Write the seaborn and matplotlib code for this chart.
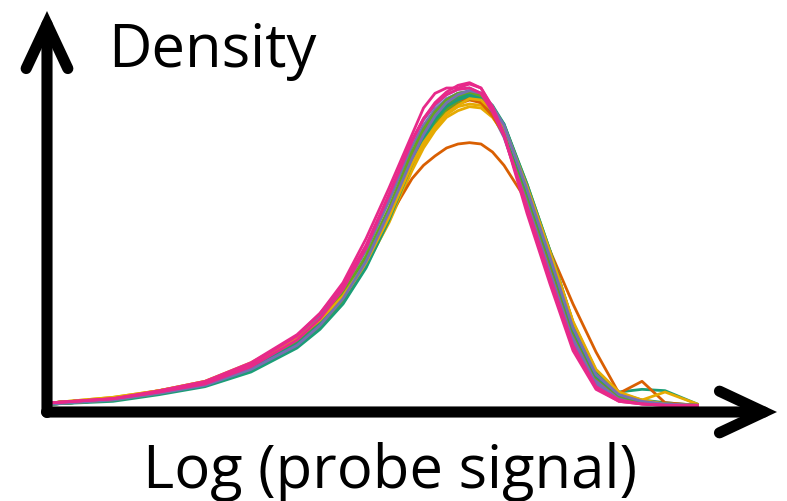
import pandas as pd
import matplotlib.pyplot as plt
import seaborn as sns

# shared x grid (log probe signal)
log_signal = [1.7, 3.0, 4.0, 5.0, 6.0, 7.0, 7.5, 8.0, 8.5, 9.0, 9.5, 9.75, 10.0, 10.25,
              10.5, 10.75, 11.0, 11.25, 11.5, 12.0, 12.5, 13.0, 13.5, 14.0, 14.5, 15.0, 15.7]

# density curves, one array per sample
s01 = [0.003, 0.006, 0.011, 0.017, 0.029, 0.046, 0.060, 0.079, 0.106, 0.141, 0.184, 0.203, 0.217, 0.228,
       0.234, 0.237, 0.235, 0.227, 0.213, 0.166, 0.114, 0.061, 0.026, 0.011, 0.006, 0.004, 0.002]
s02 = [0.004, 0.007, 0.013, 0.019, 0.032, 0.051, 0.066, 0.084, 0.109, 0.142, 0.182, 0.199, 0.212, 0.222,
       0.228, 0.231, 0.229, 0.220, 0.206, 0.163, 0.113, 0.061, 0.026, 0.010, 0.005, 0.003, 0.002]
s03 = [0.004, 0.007, 0.012, 0.019, 0.032, 0.052, 0.068, 0.089, 0.118, 0.155, 0.196, 0.212, 0.224, 0.232,
       0.236, 0.237, 0.232, 0.220, 0.203, 0.153, 0.101, 0.051, 0.019, 0.008, 0.004, 0.003, 0.002]
s04 = [0.003, 0.006, 0.011, 0.017, 0.030, 0.048, 0.063, 0.082, 0.109, 0.144, 0.186, 0.204, 0.218, 0.228,
       0.234, 0.236, 0.234, 0.226, 0.212, 0.166, 0.115, 0.062, 0.026, 0.010, 0.005, 0.003, 0.002]
s05 = [0.004, 0.008, 0.013, 0.020, 0.034, 0.053, 0.067, 0.084, 0.107, 0.139, 0.178, 0.195, 0.208, 0.218,
       0.223, 0.226, 0.225, 0.218, 0.206, 0.164, 0.116, 0.063, 0.027, 0.011, 0.005, 0.003, 0.002]
s06 = [0.003, 0.006, 0.011, 0.017, 0.029, 0.047, 0.062, 0.081, 0.108, 0.143, 0.184, 0.201, 0.215, 0.224,
       0.230, 0.232, 0.230, 0.221, 0.208, 0.162, 0.113, 0.062, 0.027, 0.012, 0.014, 0.013, 0.003]
s07 = [0.004, 0.007, 0.012, 0.018, 0.031, 0.050, 0.065, 0.084, 0.110, 0.143, 0.172, 0.182, 0.189, 0.195,
       0.198, 0.199, 0.198, 0.192, 0.182, 0.155, 0.118, 0.078, 0.042, 0.011, 0.020, 0.004, 0.002]
s08 = [0.004, 0.007, 0.012, 0.018, 0.030, 0.049, 0.064, 0.083, 0.110, 0.146, 0.189, 0.207, 0.221, 0.231,
       0.236, 0.238, 0.236, 0.226, 0.211, 0.160, 0.107, 0.054, 0.021, 0.008, 0.004, 0.003, 0.002]
s09 = [0.003, 0.006, 0.011, 0.017, 0.029, 0.047, 0.061, 0.080, 0.107, 0.142, 0.183, 0.200, 0.214, 0.224,
       0.230, 0.232, 0.231, 0.224, 0.212, 0.168, 0.118, 0.064, 0.027, 0.011, 0.005, 0.003, 0.002]
s10 = [0.004, 0.007, 0.013, 0.019, 0.033, 0.052, 0.066, 0.083, 0.107, 0.140, 0.180, 0.197, 0.210, 0.220,
       0.226, 0.228, 0.227, 0.219, 0.208, 0.165, 0.116, 0.064, 0.028, 0.009, 0.006, 0.012, 0.003]
s11 = [0.003, 0.005, 0.010, 0.016, 0.027, 0.045, 0.059, 0.078, 0.105, 0.141, 0.183, 0.201, 0.216, 0.226,
       0.232, 0.235, 0.233, 0.225, 0.213, 0.168, 0.118, 0.064, 0.028, 0.011, 0.005, 0.003, 0.002]
s12 = [0.004, 0.007, 0.012, 0.018, 0.031, 0.050, 0.065, 0.085, 0.112, 0.148, 0.190, 0.206, 0.218, 0.226,
       0.231, 0.232, 0.229, 0.219, 0.205, 0.158, 0.108, 0.057, 0.023, 0.009, 0.004, 0.003, 0.002]
s13 = [0.004, 0.007, 0.012, 0.019, 0.033, 0.054, 0.070, 0.091, 0.121, 0.159, 0.200, 0.216, 0.227, 0.235,
       0.239, 0.240, 0.236, 0.223, 0.207, 0.155, 0.102, 0.050, 0.018, 0.007, 0.004, 0.003, 0.002]
s14 = [0.003, 0.006, 0.011, 0.018, 0.031, 0.050, 0.066, 0.086, 0.114, 0.150, 0.192, 0.209, 0.222, 0.231,
       0.236, 0.237, 0.234, 0.224, 0.209, 0.160, 0.109, 0.057, 0.023, 0.009, 0.004, 0.003, 0.002]
s15 = [0.004, 0.007, 0.012, 0.018, 0.030, 0.048, 0.063, 0.083, 0.110, 0.145, 0.186, 0.203, 0.217, 0.226,
       0.231, 0.234, 0.232, 0.223, 0.210, 0.163, 0.112, 0.059, 0.024, 0.010, 0.005, 0.003, 0.002]
s16 = [0.004, 0.008, 0.013, 0.020, 0.033, 0.052, 0.066, 0.084, 0.109, 0.143, 0.183, 0.199, 0.211, 0.221,
       0.227, 0.232, 0.231, 0.223, 0.211, 0.166, 0.117, 0.065, 0.029, 0.012, 0.006, 0.003, 0.002]
s17 = [0.003, 0.006, 0.011, 0.017, 0.029, 0.047, 0.062, 0.082, 0.110, 0.147, 0.187, 0.205, 0.219, 0.229,
       0.235, 0.238, 0.236, 0.226, 0.212, 0.164, 0.113, 0.060, 0.025, 0.010, 0.005, 0.003, 0.002]
s18 = [0.004, 0.007, 0.013, 0.020, 0.034, 0.055, 0.071, 0.092, 0.122, 0.160, 0.201, 0.217, 0.228, 0.235,
       0.239, 0.240, 0.236, 0.222, 0.204, 0.151, 0.098, 0.047, 0.016, 0.006, 0.003, 0.002, 0.002]
s19 = [0.004, 0.007, 0.012, 0.018, 0.031, 0.051, 0.067, 0.089, 0.120, 0.160, 0.200, 0.217, 0.229, 0.237,
       0.242, 0.244, 0.240, 0.225, 0.205, 0.150, 0.096, 0.045, 0.015, 0.005, 0.003, 0.002, 0.002]
s20 = [0.004, 0.007, 0.012, 0.019, 0.033, 0.054, 0.071, 0.094, 0.127, 0.165, 0.205, 0.225, 0.236, 0.240,
       0.240, 0.243, 0.240, 0.226, 0.205, 0.146, 0.093, 0.043, 0.014, 0.005, 0.003, 0.002, 0.002]

curves = [s01, s02, s03, s04, s05, s06, s07, s08, s09, s10,
          s11, s12, s13, s14, s15, s16, s17, s18, s19, s20]
curve_colors = ['teal', 'orange', 'purple', 'green', 'yellow', 'teal', 'orange', 'purple',
                'green', 'yellow', 'teal', 'orange', 'purple', 'green', 'teal', 'yellow',
                'purple', 'pink', 'pink', 'pink']

dark2 = {'teal': '#1b9e77', 'orange': '#d95f02', 'purple': '#7570b3',
         'pink': '#e7298a', 'green': '#66a61e', 'yellow': '#e6ab02'}

# long-form table for seaborn
frames = []
for i, vals in enumerate(curves):
    frames.append(pd.DataFrame({'sample': f's{i + 1:02d}',
                                'log_signal': log_signal,
                                'density': vals}))
df = pd.concat(frames, ignore_index=True)
palette = {f's{i + 1:02d}': dark2[c] for i, c in enumerate(curve_colors)}

W, H = 787, 502
fig = plt.figure(figsize=(W / 100, H / 100), dpi=100)
# plotting area: x px 44..780, zero density at y px 409
ax = fig.add_axes([44 / W, (H - 409) / H, 736 / W, 400 / H])
sns.lineplot(data=df, x='log_signal', y='density', hue='sample', palette=palette,
             linewidth=2.0, legend=False, estimator=None, sort=False, ax=ax)
ax.set_xlim(1.5, 17.5)
ax.set_ylim(0, 0.3)
ax.axis('off')

# axis arrows, drawn in figure coordinates
arrow = dict(arrowstyle='->,head_length=1.6,head_width=0.75', lw=8, color='black',
             mutation_scale=20, shrinkA=0, shrinkB=0, capstyle='round', joinstyle='miter')
ax.annotate('', xy=(777 / W, (H - 413) / H), xytext=(46.5 / W, (H - 413) / H),
            xycoords='figure fraction', textcoords='figure fraction',
            arrowprops=arrow, annotation_clip=False)
ax.annotate('', xy=(47 / W, (H - 12) / H), xytext=(47 / W, (H - 413.5) / H),
            xycoords='figure fraction', textcoords='figure fraction',
            arrowprops=arrow, annotation_clip=False)

font = ['Open Sans', 'DejaVu Sans']
fig.text(108 / W, (H - 67) / H, 'Density', fontsize=43, family=font,
         ha='left', va='baseline')
fig.text(143 / W, (H - 488) / H, 'Log (probe signal)', fontsize=43, family=font,
         ha='left', va='baseline')

fig.savefig('out.png', dpi=100)
